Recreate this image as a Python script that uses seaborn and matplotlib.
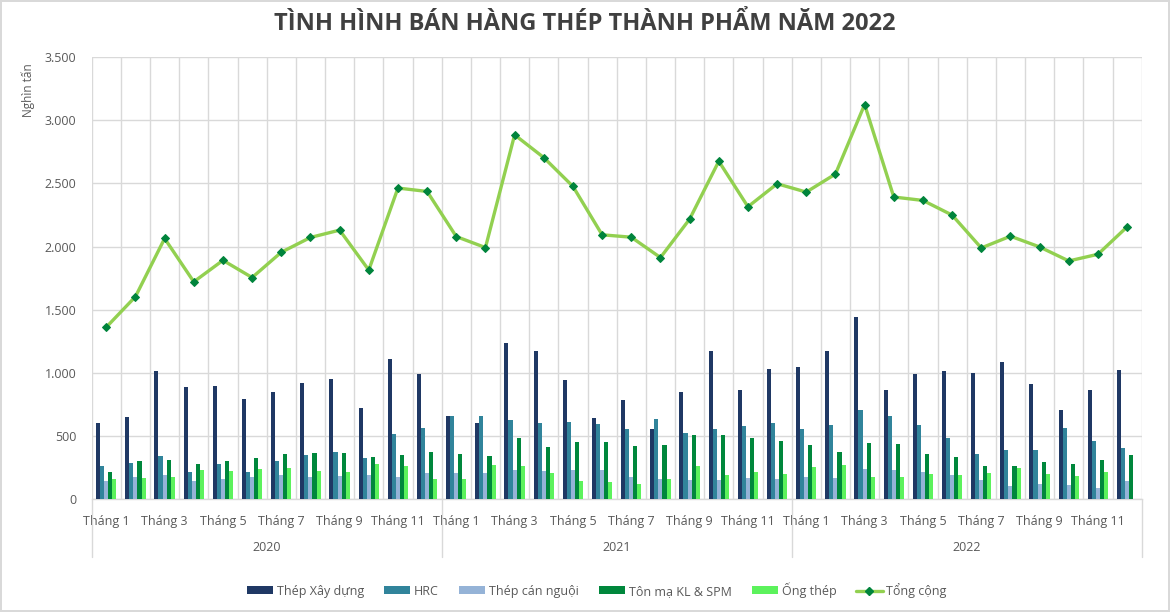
import numpy as np
import pandas as pd
import matplotlib
matplotlib.use("Agg")
import matplotlib.pyplot as plt
import matplotlib.transforms as mtrans
from matplotlib.patches import Patch
from matplotlib.lines import Line2D
from matplotlib.ticker import FuncFormatter
import seaborn as sns

# ---------------- data ----------------
years = ["2020", "2021", "2022"]
month_labels = [f"Tháng {m}" for m in range(1, 13)]

series_names = ["Thép Xây dựng", "HRC", "Thép cán nguội", "Tôn mạ KL & SPM", "Ống thép"]
total_name = "Tổng cộng"

thep_xay_dung = [600, 655, 1018, 887, 897, 797, 847, 924, 955, 726, 1111, 995,
                 663, 603, 1239, 1176, 947, 647, 784, 553, 847, 1176, 868, 1029,
                 1045, 1171, 1439, 863, 995, 1013, 997, 1084, 913, 705, 868, 1024]
hrc = [263, 287, 342, 213, 276, 213, 300, 347, 376, 326, 518, 566,
       663, 663, 624, 600, 608, 592, 553, 634, 521, 553, 579, 600,
       553, 584, 705, 658, 587, 482, 355, 387, 392, 563, 458, 403]
thep_can_nguoi = [145, 179, 189, 145, 163, 176, 189, 179, 184, 189, 174, 211,
                  205, 205, 229, 224, 229, 229, 174, 158, 153, 153, 168, 158,
                  179, 168, 239, 234, 218, 195, 153, 108, 124, 113, 92, 147]
ton_ma = [213, 305, 310, 279, 300, 326, 358, 363, 366, 337, 350, 376,
          361, 342, 487, 416, 453, 453, 421, 426, 508, 508, 482, 461,
          432, 371, 442, 437, 361, 334, 263, 263, 295, 279, 310, 347]
ong_thep = [158, 168, 174, 234, 224, 239, 245, 224, 216, 276, 261, 163,
            158, 271, 261, 208, 147, 139, 118, 163, 261, 195, 218, 200,
            255, 274, 174, 179, 200, 189, 208, 245, 200, 184, 213, 0]
tong_cong = [1362, 1604, 2064, 1721, 1891, 1755, 1955, 2072, 2130, 1814, 2463, 2436,
             2079, 1992, 2884, 2704, 2476, 2093, 2074, 1913, 2217, 2675, 2315, 2497,
             2431, 2574, 3124, 2392, 2365, 2249, 1989, 2082, 1997, 1886, 1939, 2156]

colors = ["#1F3864", "#31849B", "#95B3D7", "#00873C", "#5CF25C"]
line_color = "#92D050"
marker_color = "#00843C"

periods = [f"{y}-{m}" for y in years for m in range(1, 13)]
values = [thep_xay_dung, hrc, thep_can_nguoi, ton_ma, ong_thep]
df = pd.DataFrame({
    "period": periods * len(series_names),
    "series": [s for s in series_names for _ in periods],
    "value": [v for vals in values for v in vals],
})

# ---------------- style ----------------
sns.set_theme(style="white")
plt.rcParams["font.family"] = ["Open Sans", "DejaVu Sans"]
txt = "#595959"
grid_c = "#D9D9D9"

fig = plt.figure(figsize=(11.7, 6.12), dpi=100)
fig.patch.set_facecolor("white")
fig.patch.set_edgecolor(grid_c)
fig.patch.set_linewidth(1.5)

W, H = 1170, 612
left, right, top, bottom = 91.7, 1141.7, 57.0, 499.3
ax = fig.add_axes([left / W, 1 - bottom / H, (right - left) / W, (bottom - top) / H])

sns.barplot(data=df, x="period", y="value", hue="series", order=periods,
            hue_order=series_names, palette=colors, saturation=1, width=0.7,
            errorbar=None, legend=False, ax=ax, zorder=3,
            linewidth=0, edgecolor="none")

xpos = np.arange(len(periods))
sns.lineplot(x=xpos, y=tong_cong, sort=False, color=line_color, lw=2.4,
             marker="D", markersize=4.5, markerfacecolor=marker_color,
             markeredgecolor=marker_color, ax=ax, zorder=4)

ax.set_xlim(-0.5, len(periods) - 0.5)
ax.set_ylim(0, 3500)
ax.set_yticks(np.arange(0, 3501, 500))
ax.yaxis.set_major_formatter(FuncFormatter(lambda v, p: f"{int(v):,}".replace(",", ".")))
ax.set_xlabel("")
ax.set_ylabel("")

# x ticks: odd months labeled, gridlines at category boundaries
ax.set_xticks(xpos[::2])
ax.set_xticklabels([month_labels[i % 12] for i in xpos[::2]])
ax.set_xticks(np.arange(-0.5, len(periods), 1), minor=True)
ax.grid(False)
ax.grid(axis="y", color=grid_c, lw=1, zorder=0)
ax.grid(axis="x", which="minor", color=grid_c, lw=1, zorder=0)
ax.set_axisbelow(True)
ax.tick_params(axis="x", which="both", length=0, pad=11, labelsize=9, labelcolor=txt)
ax.tick_params(axis="y", length=0, pad=11, labelsize=9, labelcolor=txt)

for s in ["left", "right", "top"]:
    ax.spines[s].set_visible(False)
ax.spines["bottom"].set_color(grid_c)
ax.spines["bottom"].set_linewidth(1)

# year labels and separators
trans = mtrans.blended_transform_factory(ax.transData, ax.transAxes)
for i, y in enumerate(years):
    ax.text(i * 12 + 5.5, -0.108, y, transform=trans, ha="center", va="center",
            fontsize=9, color=txt)
for b in [-0.5, 11.5, 23.5, 35.5]:
    ax.plot([b, b], [0, -0.131], transform=trans, color=grid_c, lw=1, clip_on=False)

# title & axis title
fig.text(0.5, 1 - 24 / H, "TÌNH HÌNH BÁN HÀNG THÉP THÀNH PHẨM NĂM 2022",
         ha="center", va="center", fontsize=17, fontweight="bold", color="#404040")
fig.text(28 / W, 1 - 90 / H, "Nghìn tấn", rotation=90, ha="center", va="center",
         fontsize=8.5, color=txt)

# legend
handles = [Patch(facecolor=c, edgecolor="none") for c in colors]
handles.append(Line2D([0], [0], color=line_color, lw=2.4, marker="D", markersize=4.5,
                      markerfacecolor=marker_color, markeredgecolor=marker_color))
leg = fig.legend(handles, series_names + [total_name], loc="center",
                 bbox_to_anchor=(0.51, 1 - 590 / H), ncol=6, frameon=False,
                 fontsize=9, handlelength=2.1, handleheight=0.6,
                 handletextpad=0.3, columnspacing=1.6)
for t in leg.get_texts():
    t.set_color(txt)

fig.savefig("out.png", dpi=100)
